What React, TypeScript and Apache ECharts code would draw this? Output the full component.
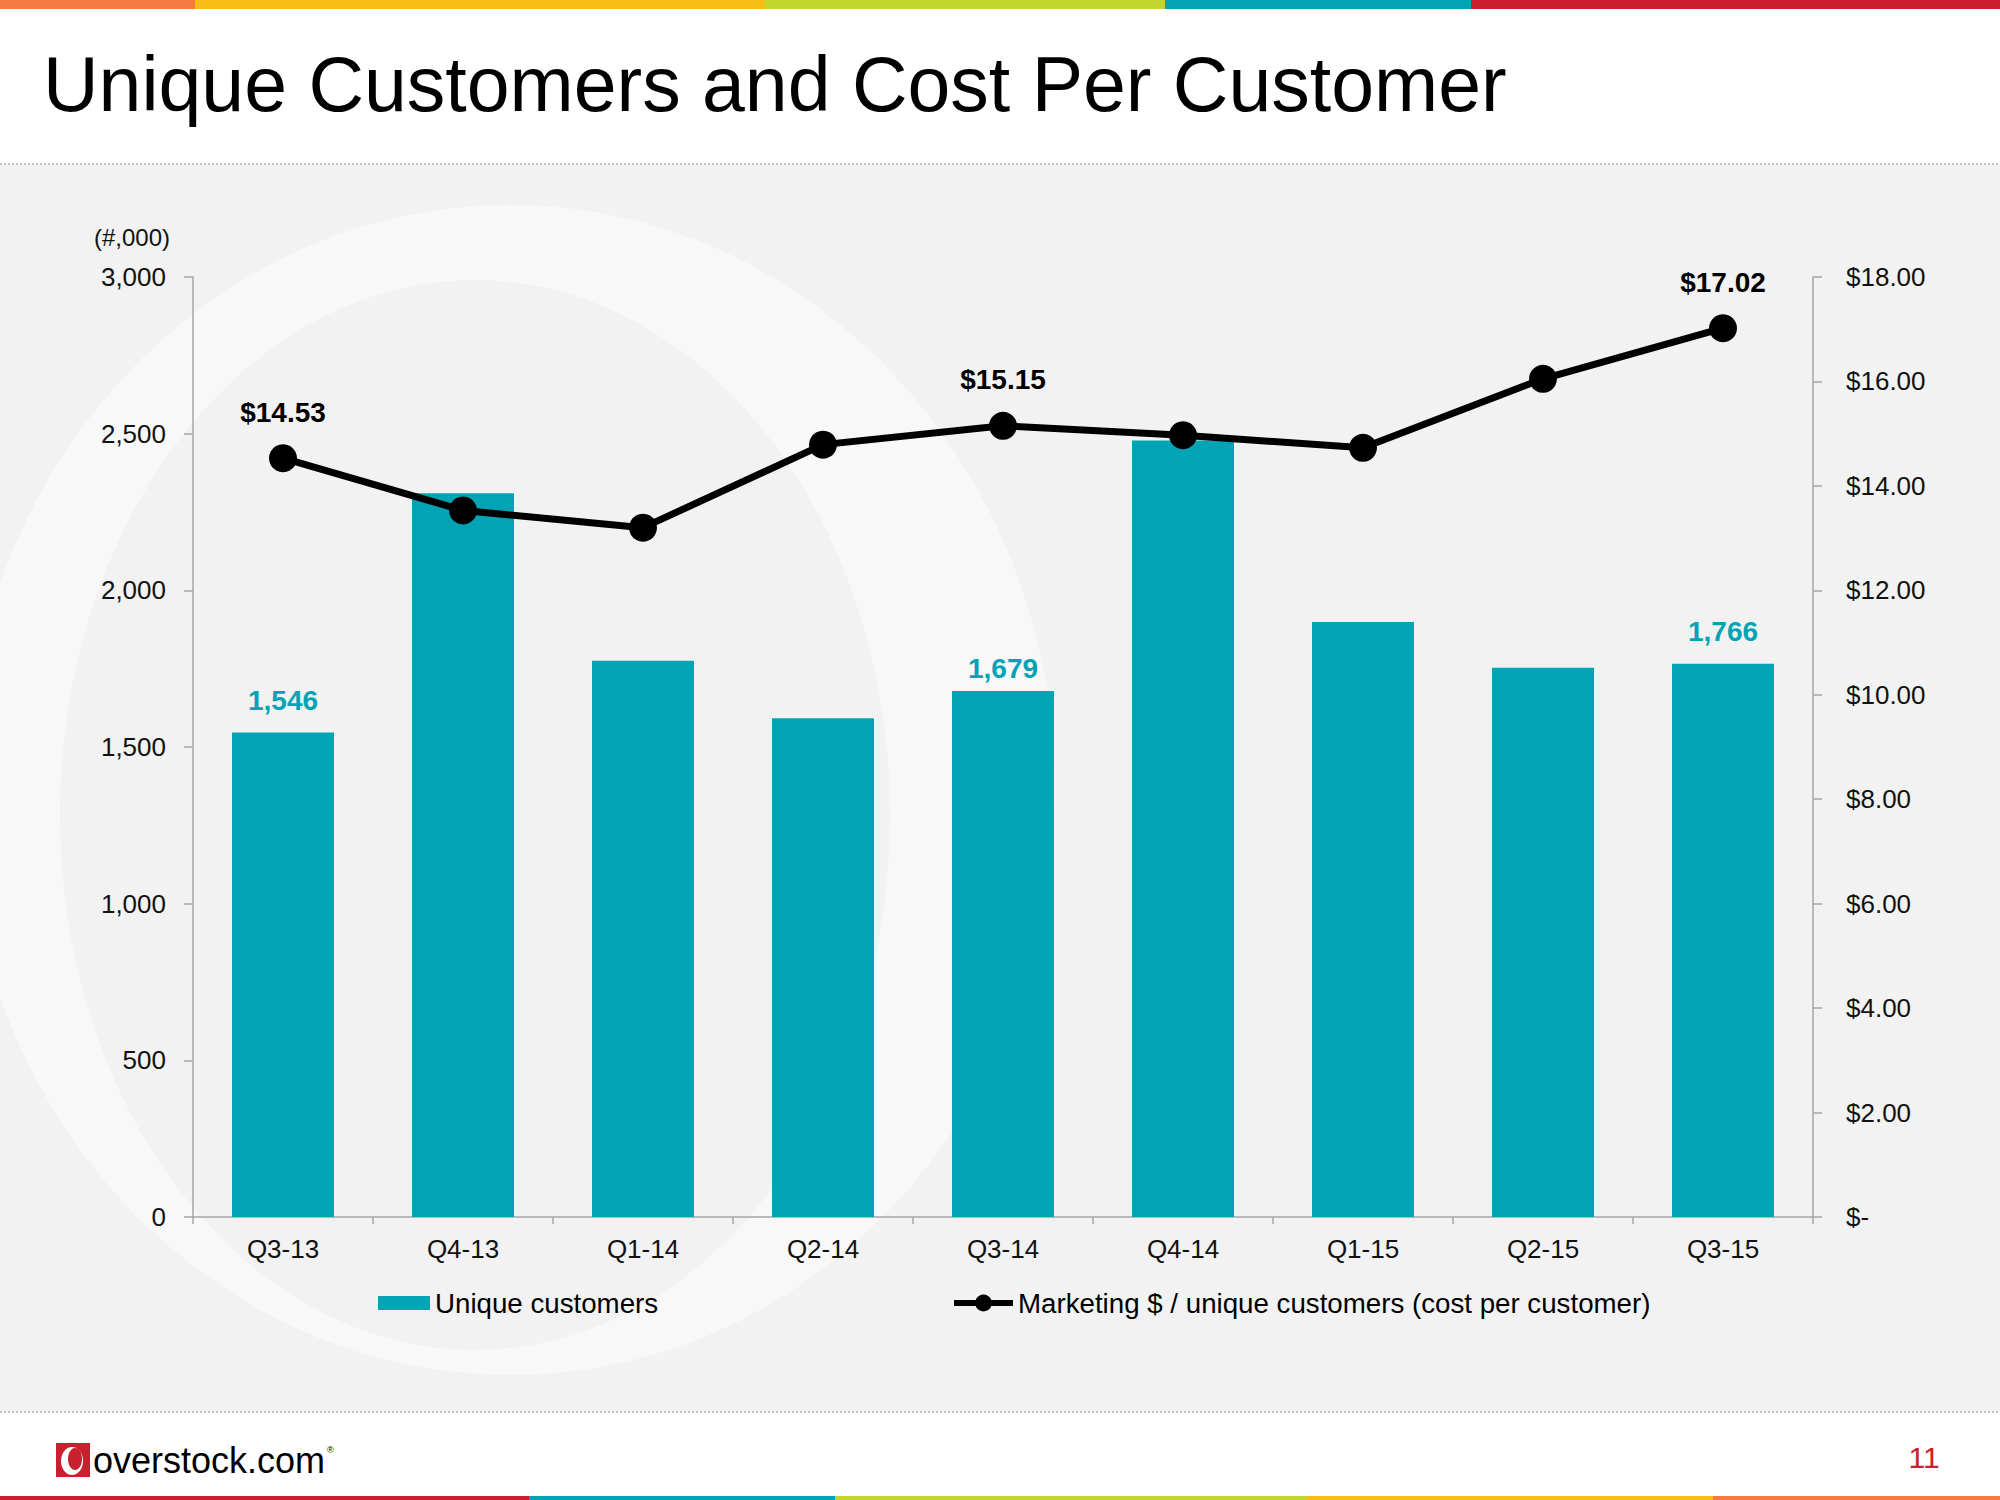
import React, { useEffect, useRef } from "react";
import * as echarts from "echarts";

// ---- data ----
const categories = ["Q3-13", "Q4-13", "Q1-14", "Q2-14", "Q3-14", "Q4-14", "Q1-15", "Q2-15", "Q3-15"];
const uniqueCustomers = [1546, 2310, 1775, 1592, 1679, 2478, 1899, 1753, 1766];
const costPerCustomer = [14.53, 13.53, 13.2, 14.79, 15.15, 14.97, 14.73, 16.05, 17.02];
const labeledIndices = [0, 4, 8];
const seriesNames = ["Unique customers", "Marketing $ / unique customers (cost per customer)"];
const leftAxisRange = [0, 3000, 500];
const rightAxisRange = [0, 18, 2];
const titleText = "Unique Customers and Cost Per Customer";
const unitText = "(#,000)";
const logoText = "overstock.com";
const pageNumber = "11";

const FONT = '"Liberation Sans", Arial, Helvetica, sans-serif';
const TEAL = "#00A4B4";
const RED = "#C8202F";
const AXIS_GRAY = "#A6A6A6";

const fmtComma = (v: number) => v.toLocaleString("en-US");
const fmtDollar = (v: number) => (v === 0 ? "$-" : "$" + v.toFixed(2));

function buildGraphics() {
  const topBars = [
    [0, 195, "#F47A42"],
    [195, 765, "#F9BC15"],
    [765, 1165, "#C3D630"],
    [1165, 1471, "#00A4B4"],
    [1471, 2000, "#CB2030"],
  ];
  const bottomBars = [
    [0, 529, "#CB2030"],
    [529, 835, "#00A4B4"],
    [835, 1307, "#C3D630"],
    [1307, 1713, "#F9BC15"],
    [1713, 2000, "#F47A42"],
  ];
  const els: any[] = [
    { type: "rect", z: -10, silent: true, shape: { x: 0, y: 164, width: 2000, height: 1248 }, style: { fill: "#F2F2F2" } },
    { type: "ellipse", z: -9, silent: true, shape: { cx: 510, cy: 790, rx: 545, ry: 585 }, style: { fill: "#F8F8F8" } },
    { type: "ellipse", z: -8, silent: true, shape: { cx: 475, cy: 815, rx: 415, ry: 535 }, style: { fill: "#F2F2F2" } },
    { type: "line", z: -7, silent: true, shape: { x1: 0, y1: 164, x2: 2000, y2: 164 }, style: { stroke: "#C4C4C4", lineWidth: 2, lineDash: [2, 2] } },
    { type: "line", z: -7, silent: true, shape: { x1: 0, y1: 1412, x2: 2000, y2: 1412 }, style: { stroke: "#C4C4C4", lineWidth: 2, lineDash: [2, 2] } },
  ];
  topBars.forEach(([x0, x1, c]) =>
    els.push({ type: "rect", z: -7, silent: true, shape: { x: x0, y: 0, width: (x1 as number) - (x0 as number), height: 9 }, style: { fill: c } })
  );
  bottomBars.forEach(([x0, x1, c]) =>
    els.push({ type: "rect", z: -7, silent: true, shape: { x: x0, y: 1496, width: (x1 as number) - (x0 as number), height: 4 }, style: { fill: c } })
  );
  els.push({
    type: "text",
    x: 43,
    y: 84,
    style: { text: titleText, fontSize: 77, fontFamily: FONT, fill: "#000", align: "left", verticalAlign: "middle", textAlign: "left", textVerticalAlign: "middle" },
  });
  els.push({
    type: "text",
    x: 170,
    y: 237,
    style: { text: unitText, fontSize: 24, fontFamily: FONT, fill: "#111", align: "right", verticalAlign: "middle", textAlign: "right", textVerticalAlign: "middle" },
  });
  // logo
  els.push({ type: "rect", silent: true, shape: { x: 56, y: 1443, width: 34, height: 34 }, style: { fill: RED } });
  els.push({ type: "ellipse", silent: true, shape: { cx: 72, cy: 1461, rx: 11, ry: 14 }, style: { fill: "#fff" } });
  els.push({ type: "ellipse", silent: true, shape: { cx: 75, cy: 1459, rx: 7, ry: 11 }, style: { fill: RED } });
  els.push({
    type: "text",
    x: 93,
    y: 1460,
    style: { text: logoText, fontSize: 36, fontFamily: FONT, fill: "#000", align: "left", verticalAlign: "middle", textAlign: "left", textVerticalAlign: "middle" },
  });
  els.push({
    type: "text",
    x: 327,
    y: 1450,
    style: { text: "®", fontSize: 9, fontFamily: FONT, fill: "#000", align: "left", verticalAlign: "middle", textAlign: "left", textVerticalAlign: "middle" },
  });
  els.push({
    type: "text",
    x: 1924,
    y: 1457,
    style: { text: pageNumber, fontSize: 30, fontFamily: FONT, fill: RED, align: "center", verticalAlign: "middle", textAlign: "center", textVerticalAlign: "middle" },
  });
  return els;
}

export default function App() {
  const ref = useRef<HTMLDivElement>(null);
  useEffect(() => {
    document.body.style.margin = "0";
    const chart = echarts.init(ref.current!, undefined, { renderer: "svg" });
    const barData = uniqueCustomers.map((v, i) => (i === 4 ? { value: v, label: { distance: 8 } } : v));
    const option: any = {
      animation: false,
      backgroundColor: "#ffffff",
      textStyle: { fontFamily: FONT },
      graphic: { elements: buildGraphics() },
      grid: { left: 193, right: 187, top: 277, bottom: 283, containLabel: false },
      legend: [
        {
          data: [seriesNames[0]],
          left: 373,
          top: 1284,
          itemWidth: 52,
          itemHeight: 14,
          icon: "rect",
          textStyle: { fontSize: 27.7, color: "#000", fontFamily: FONT },
          selectedMode: false,
        },
        {
          data: [seriesNames[1]],
          left: 946,
          top: 1284,
          itemWidth: 59,
          itemHeight: 21,
          lineStyle: { width: 6 },
          textStyle: { fontSize: 27.7, color: "#000", fontFamily: FONT },
          selectedMode: false,
        },
      ],
      xAxis: {
        type: "category",
        data: categories,
        boundaryGap: true,
        axisLine: { show: true, lineStyle: { color: AXIS_GRAY, width: 1.5 } },
        axisTick: { show: true, alignWithLabel: false, length: 7, lineStyle: { color: AXIS_GRAY, width: 1.5 } },
        axisLabel: { fontSize: 26, color: "#111", margin: 19, fontFamily: FONT },
        splitLine: { show: false },
      },
      yAxis: [
        {
          type: "value",
          min: leftAxisRange[0],
          max: leftAxisRange[1],
          interval: leftAxisRange[2],
          position: "left",
          axisLine: { show: true, lineStyle: { color: AXIS_GRAY, width: 1.5 } },
          axisTick: { show: true, length: 9, lineStyle: { color: AXIS_GRAY, width: 1.5 } },
          axisLabel: { fontSize: 26, color: "#111", margin: 27, formatter: (v: number) => fmtComma(v), fontFamily: FONT },
          splitLine: { show: false },
        },
        {
          type: "value",
          min: rightAxisRange[0],
          max: rightAxisRange[1],
          interval: rightAxisRange[2],
          position: "right",
          axisLine: { show: true, lineStyle: { color: AXIS_GRAY, width: 1.5 } },
          axisTick: { show: true, length: 9, lineStyle: { color: AXIS_GRAY, width: 1.5 } },
          axisLabel: { fontSize: 26, color: "#111", margin: 33, formatter: (v: number) => fmtDollar(v), fontFamily: FONT },
          splitLine: { show: false },
        },
      ],
      series: [
        {
          name: seriesNames[0],
          type: "bar",
          yAxisIndex: 0,
          data: barData,
          barWidth: 102,
          itemStyle: { color: TEAL },
          label: {
            show: true,
            position: "top",
            distance: 18,
            fontSize: 28,
            fontWeight: "bold",
            color: TEAL,
            fontFamily: FONT,
            formatter: (p: any) => (labeledIndices.includes(p.dataIndex) ? fmtComma(p.value) : ""),
          },
        },
        {
          name: seriesNames[1],
          type: "line",
          yAxisIndex: 1,
          data: costPerCustomer,
          symbol: "circle",
          symbolSize: 28,
          itemStyle: { color: "#000" },
          lineStyle: { color: "#000", width: 7 },
          label: {
            show: true,
            position: "top",
            distance: 18,
            fontSize: 28,
            fontWeight: "bold",
            color: "#000",
            fontFamily: FONT,
            formatter: (p: any) => (labeledIndices.includes(p.dataIndex) ? fmtDollar(p.value) : ""),
          },
        },
      ],
    };
    chart.setOption(option);
    return () => chart.dispose();
  }, []);
  return <div ref={ref} style={{ width: 2000, height: 1500, position: "absolute", left: 0, top: 0 }} />;
}
